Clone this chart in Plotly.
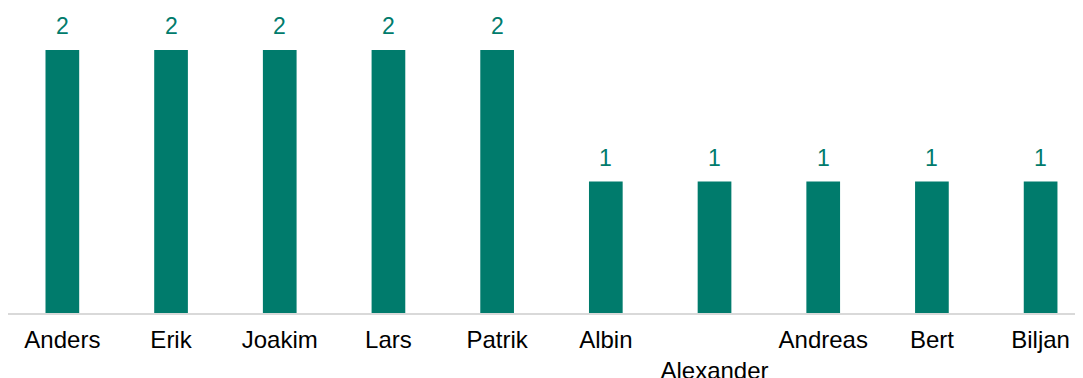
import plotly.graph_objects as go

names = ['Anders', 'Erik', 'Joakim', 'Lars', 'Patrik', 'Albin', 'Alexander', 'Andreas', 'Bert', 'Biljan']
counts = [2, 2, 2, 2, 2, 1, 1, 1, 1, 1]
# labels that drop to a second row (too long to fit)
staggered = ['Alexander']

ticktext = []
for n in names:
	if n in staggered:
		ticktext.append('<br>' + n)
	else:
		ticktext.append(n)

teal = 'rgb(0,123,108)'

fig = go.Figure()
fig.add_trace(go.Bar(
	x=list(range(len(names))),
	y=counts,
	width=0.31,
	marker=dict(color=teal, line=dict(width=0)),
	cliponaxis=False,
))

# value labels above the bars
for i, c in enumerate(counts):
	fig.add_annotation(
		x=i, y=c,
		text=str(c),
		showarrow=False,
		yanchor='bottom',
		yshift=9,
		font=dict(color=teal, size=23, family='Liberation Sans, Arial'),
	)

# page body has an 8px margin, so the figure is 8px smaller than the window
fig.update_layout(
	width=1075,
	height=370,
	margin=dict(l=0, r=0, t=0, b=65),
	plot_bgcolor='white',
	paper_bgcolor='white',
	showlegend=False,
	font=dict(family='Liberation Sans, Arial', size=24, color='black'),
)
fig.update_xaxes(
	tickmode='array',
	tickvals=list(range(len(names))),
	ticktext=ticktext,
	range=[-0.5, 9.39],
	automargin=False,
	showline=True,
	linecolor='rgb(217,217,217)',
	linewidth=2,
	showgrid=False,
	zeroline=False,
	ticks='',
	ticklabelstandoff=4,
	tickfont=dict(size=24, color='black'),
)
fig.update_yaxes(
	range=[0, 2.32],
	visible=False,
	automargin=False,
	showgrid=False,
	zeroline=False,
)

fig.write_html("out.html")
